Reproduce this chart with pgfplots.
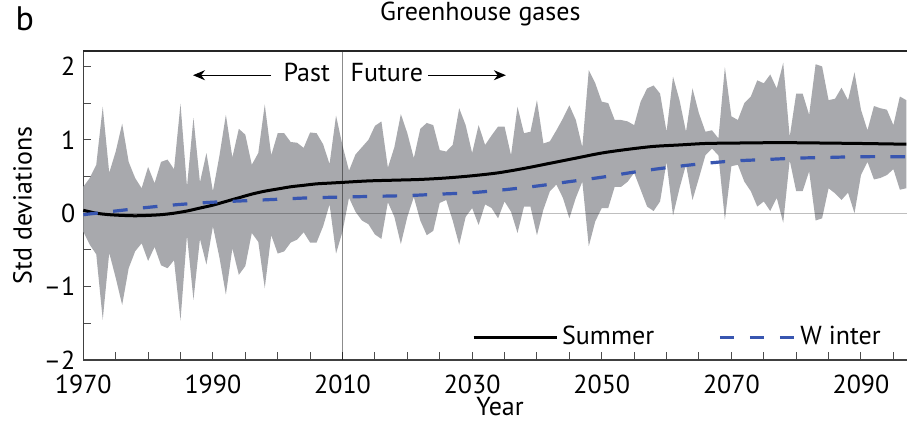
\documentclass[border=0pt]{standalone}
\usepackage{fontspec}
\setmainfont{PT Sans}
\usepackage{pgfplots}
\usepackage{pgfplotstable}
\pgfplotsset{compat=1.18}
\usepgfplotslibrary{fillbetween}
\usetikzlibrary{arrows.meta}

\definecolor{bandgray}{RGB}{168,169,173}
\definecolor{winterblue}{RGB}{56,86,176}

\pgfplotsset{
  summer legend/.style={legend image code/.code={\draw[##1] (0pt,0pt) -- (41.5pt,0pt);}},
  winter legend/.style={legend image code/.code={\draw[##1] (0pt,0pt) -- (37.5pt,0pt);}},
}

% yearly spread of the ensemble (upper and lower envelope)
\pgfplotstableread{
year hi lo
1970 0.36 -0.25
1971 0.48 -0.43
1972 0.66 -0.56
1973 1.45 -1.45
1974 0.55 -0.54
1975 0.84 -0.88
1976 1.22 -1.25
1977 0.70 -0.75
1978 0.48 -0.52
1979 0.34 -0.41
1980 0.63 -0.65
1981 0.41 -0.46
1982 0.70 -0.71
1983 0.73 -0.75
1984 0.60 -0.64
1985 1.49 -1.46
1986 0.36 -0.30
1987 1.30 -1.18
1988 0.42 -0.35
1989 0.82 -0.70
1990 0.30 -0.18
1991 0.78 -0.60
1992 1.34 -1.11
1993 0.76 -0.48
1994 1.15 -0.84
1995 1.07 -0.72
1996 0.66 -0.27
1997 0.82 -0.39
1998 1.48 -1.02
1999 0.79 -0.30
2000 1.09 -0.55
2001 1.09 -0.52
2002 0.97 -0.40
2003 0.96 -0.36
2004 0.89 -0.26
2005 1.10 -0.40
2006 1.09 -0.40
2007 0.94 -0.18
2008 0.67 0.12
2009 1.33 -0.55
2010 0.92 -0.25
2011 0.58 0.21
2012 0.80 0.02
2013 0.90 -0.10
2014 1.00 -0.15
2015 1.19 -0.29
2016 1.25 -0.35
2017 0.62 0.15
2018 0.90 -0.05
2019 1.35 -0.42
2020 1.09 -0.05
2021 0.75 0.22
2022 1.15 -0.10
2023 1.23 -0.30
2024 1.20 -0.24
2025 0.86 0.14
2026 0.84 0.18
2027 0.93 -0.10
2028 1.43 -0.43
2029 1.20 -0.05
2030 0.82 0.07
2031 1.20 -0.16
2032 0.93 0.12
2033 1.06 0.07
2034 1.18 -0.07
2035 1.18 0.16
2036 0.79 0.02
2037 1.45 -0.27
2038 1.09 0.09
2039 1.11 0.09
2040 1.54 -0.30
2041 0.95 0.05
2042 0.98 0.30
2043 1.13 0.39
2044 1.29 0.21
2045 1.47 -0.07
2046 1.27 0.21
2047 0.90 0.43
2048 1.95 -0.45
2049 1.77 -0.11
2050 1.52 0.07
2051 1.50 0.07
2052 1.27 0.36
2053 1.27 0.36
2054 1.25 0.43
2055 1.20 0.55
2056 1.52 0.32
2057 1.70 0.09
2058 1.74 0.03
2059 1.63 0.16
2060 1.11 0.70
2061 1.86 -0.03
2062 1.54 0.34
2063 1.11 0.66
2064 1.70 0.18
2065 1.36 0.48
2066 1.11 0.79
2067 1.13 0.88
2068 1.02 0.79
2069 1.99 -0.09
2070 1.32 0.64
2071 1.27 0.66
2072 1.50 0.43
2073 1.59 0.30
2074 1.81 0.09
2075 1.77 0.16
2076 1.89 0.03
2077 1.70 0.21
2078 2.05 -0.13
2079 1.04 0.72
2080 1.63 0.30
2081 1.63 0.30
2082 1.34 0.57
2083 2.03 -0.10
2084 2.00 -0.07
2085 1.54 0.34
2086 1.56 0.27
2087 1.71 0.18
2088 1.54 0.28
2089 1.92 0.00
2090 1.41 0.52
2091 1.13 0.70
2092 1.46 0.46
2093 1.43 0.48
2094 1.41 0.52
2095 1.20 0.60
2096 1.59 0.32
2097 1.54 0.34
}\envelope

% smoothed summer response
\pgfplotstableread{
year v
1970 0.04
1972 0.00
1974 -0.02
1976 -0.03
1978 -0.035
1980 -0.03
1982 -0.02
1984 0.00
1986 0.03
1988 0.07
1990 0.11
1992 0.16
1994 0.21
1996 0.26
1998 0.30
2000 0.33
2002 0.36
2004 0.38
2006 0.40
2008 0.41
2010 0.42
2014 0.44
2018 0.45
2022 0.46
2026 0.48
2030 0.51
2034 0.55
2038 0.61
2042 0.68
2046 0.75
2050 0.82
2054 0.87
2058 0.91
2062 0.93
2066 0.95
2070 0.955
2075 0.96
2080 0.96
2085 0.955
2090 0.95
2097 0.94
}\summer

% smoothed winter response
\pgfplotstableread{
year v
1970 -0.02
1975 0.03
1980 0.08
1985 0.12
1990 0.15
1995 0.17
2000 0.19
2005 0.21
2010 0.22
2015 0.23
2020 0.24
2025 0.26
2030 0.28
2035 0.32
2040 0.37
2045 0.43
2050 0.49
2055 0.56
2060 0.62
2065 0.67
2070 0.71
2075 0.73
2080 0.75
2085 0.76
2090 0.77
2097 0.77
}\winter

\begin{document}
\fontsize{13}{15.6}\selectfont
\begin{tikzpicture}
\begin{axis}[
  scale only axis, width=411.85pt, height=154.5pt,
  xmin=1970, xmax=2097.1, ymin=-2, ymax=2.21,
  axis x line*=bottom, axis y line*=left,
  axis line style={black!75, line width=0.6pt},
  tick align=inside,
  xtick={1970,1990,2010,2030,2050,2070,2090},
  xticklabels={1970,1990,2010,2030,2050,2070,2090},
  minor xtick={1975,1980,...,2095},
  ytick={-2,-1,0,1,2}, yticklabels={--2,--1,0,1,2},
  minor ytick={-1.5,-0.5,0.5,1.5},
  major tick length=3.75pt, minor tick length=3.75pt,
  tick style={black!70, line width=0.5pt},
  xticklabel style={yshift=-3pt},
  yticklabel style={xshift=0.5pt},
  xlabel={Year},
  every axis x label/.style={at={([yshift=-27.9pt]axis description cs:0.506,0)}, anchor=base, inner sep=0pt},
  ylabel={Std deviations},
  every axis y label/.style={at={([xshift=-30.4pt]axis description cs:0,0.5)}, anchor=center, rotate=90},
  title={Greenhouse gases},
  title style={at={([yshift=9.5pt]axis description cs:0.482,1)}, anchor=base},
  clip=false,
  legend columns=2,
  legend style={draw=none, fill=none, at={(0.4716,0.0725)}, anchor=west,
    inner xsep=0pt, inner ysep=0pt,
    /tikz/every even column/.append style={column sep=30pt}},
]
\addplot[name path=hi, draw=none, forget plot] table[x=year, y=hi] {\envelope};
\addplot[name path=lo, draw=none, forget plot] table[x=year, y=lo] {\envelope};
\addplot[fill=bandgray, draw=none, forget plot] fill between[of=hi and lo];

% zero reference and the past/future divide
\addplot[black, opacity=0.25, line width=0.6pt, forget plot] coordinates {(1970,0) (2097.1,0)};
\addplot[black, opacity=0.45, line width=0.5pt, forget plot] coordinates {(2010,-2) (2010,2.21)};

\addplot[black, line width=1.5pt, smooth, summer legend]
  table[x=year, y=v] {\summer};
\addlegendentry{Summer}
\addplot[winterblue, line width=1.6pt, smooth, dash pattern=on 7.3pt off 7.7pt, winter legend]
  table[x=year, y=v] {\winter};
\addlegendentry{W inter}

% top frame line
\draw[black!85, line width=0.6pt] (rel axis cs:0,1) -- (rel axis cs:1,1);

% past / future annotation
\draw[-{Stealth[length=6pt,width=5pt]}, line width=0.6pt] (axis cs:1998.97,1.88) -- (axis cs:1986.93,1.88);
\node[anchor=base east, inner sep=0pt] at (axis cs:2008.1,1.80) {Past};
\node[anchor=base west, inner sep=0pt] at (axis cs:2011.2,1.80) {Future};
\draw[-{Stealth[length=6pt,width=5pt]}, line width=0.6pt] (axis cs:2023.2,1.88) -- (axis cs:2035.2,1.88);
\end{axis}
\node[anchor=base, font=\fontsize{17}{20}\selectfont] at (-29.2pt,164.5pt) {b};
\pgfresetboundingbox
\path (-41.65pt,-31pt) rectangle (411.85pt,180pt);
\end{tikzpicture}
\end{document}
